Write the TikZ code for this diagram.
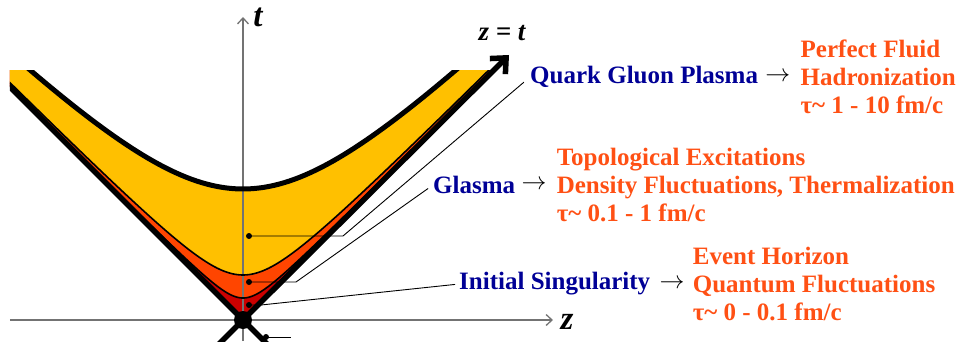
\documentclass[tikz,border=0pt]{standalone}
\usepackage{fontspec}
\setmainfont{Liberation Serif}
\usetikzlibrary{arrows.meta, positioning}
\definecolor{qgpyellow}{RGB}{255,192,0}
\definecolor{glasmaorange}{RGB}{255,69,0}
\definecolor{singred}{RGB}{204,0,0}
\definecolor{phaseblue}{RGB}{0,0,150}
\definecolor{noteorange}{RGB}{255,80,20}
\newcommand{\bigfont}{\fontsize{25}{28}\selectfont}

\begin{document}
\begin{tikzpicture}[
    x=1pt, y=1pt,
    phase/.style={font=\bigfont\bfseries, text=phaseblue, inner sep=0pt},
    note/.style={font=\bigfont\bfseries, text=noteorange, align=left, inner sep=0pt},
    goesto/.style={font=\bigfont, inner sep=0pt},
    axis/.style={line width=1.3pt, black!55, -{Straight Barb[length=6pt,width=11pt]}},
    axislabel/.style={font=\fontsize{33}{33}\selectfont\bfseries\itshape, inner sep=0pt},
    cone/.style={line width=5.5pt},
    shell/.style={line width=1.6pt},
    dot/.style={circle, fill, inner sep=0pt, minimum size=6pt},
    leader/.style={line width=0.9pt},
  ]
  \useasboundingbox (-243,-21) rectangle (724,320);
  \coordinate (O) at (0,0);

  \begin{scope}
    \clip (-233,-21) rectangle (724,320);
    % stages inside the forward light cone
    \begin{scope}
      \clip (0,0) -- (250,250) -- (-233,250) -- (-233,233) -- cycle;
      \fill[singred] (-240,-5) rectangle (260,260);
      \fill[glasmaorange] plot[domain=-3.4:3.4, samples=160] ({22*sinh(\x)}, {22*cosh(\x)}) -- cycle;
      \fill[qgpyellow] plot[domain=-2.6:2.6, samples=120] ({45*sinh(\x)}, {45*cosh(\x)}) -- cycle;
      \fill[white] plot[domain=-1.45:1.45, samples=80] ({131*sinh(\x)}, {131*cosh(\x)}) -- cycle;
    \end{scope}

    % axes
    \draw[axis] (-233,0) -- (310,0);
    \draw[axis] (0,-21) -- (0,303);

    % proper time hyperbolas
    \begin{scope}
      \clip (0,0) -- (250,250) -- (-233,250) -- (-233,233) -- cycle;
      \draw[shell] plot[domain=-3.4:3.4, samples=160] ({22*sinh(\x)}, {22*cosh(\x)});
      \draw[shell] plot[domain=-2.6:2.6, samples=120] ({45*sinh(\x)}, {45*cosh(\x)});
      \draw[line width=5pt] plot[domain=-1.45:1.45, samples=80] ({131*sinh(\x)}, {131*cosh(\x)});
    \end{scope}

    % light cone
    \draw[cone] (O) -- (-250,250);
    \draw[cone, -{Straight Barb[length=12pt,width=22pt]}] (O) -- (266,265);
    \draw[cone] (O) -- (-25,-25);
    \draw[cone] (O) -- (25,-25);
    \node[circle, fill, inner sep=0pt, minimum size=18pt] (event) at (O) {};

    \node[dot] (lowdot) at (23,-17) {};
    \coordinate (lowend) at (48,-17);
    \draw[leader] (lowdot.center) -- (lowend);
  \end{scope}

  \node[axislabel] (tlabel) at (15,303) {t};
  \node[axislabel] (zlabel) at (324,-2) {z};
  \node[axislabel, font=\fontsize{27}{27}\selectfont\bfseries\itshape] (conelabel) at (259,287) {z = t};

  % stages
  \node[phase, anchor=west] (qgp) at (287,243) {Quark Gluon Plasma};
  \node[goesto, right=7pt of qgp] (qgparrow) {$\rightarrow$};
  \node[note, right=10pt of qgparrow] (qgpnote) {Perfect Fluid\\Hadronization\\τ\textasciitilde{} 1 - 10 fm/c};

  \node[phase, anchor=west] (glasma) at (190,135) {Glasma};
  \node[goesto, right=6pt of glasma] (glasmaarrow) {$\rightarrow$};
  \node[note, right=10pt of glasmaarrow] (glasmanote) {Topological Excitations\\Density Fluctuations, Thermalization\\τ\textasciitilde{} 0.1 - 1 fm/c};

  \node[phase, anchor=west] (singularity) at (216,36) {Initial Singularity};
  \node[goesto, right=9pt of singularity] (singarrow) {$\rightarrow$};
  \node[note, right=8pt of singarrow] (singnote) {Event Horizon\\Quantum Fluctuations\\τ\textasciitilde{} 0 - 0.1 fm/c};

  % leaders from the stages
  \node[dot] (qgpdot) at (6,84) {};
  \node[dot] (glasmadot) at (6,38) {};
  \node[dot] (singdot) at (6,15) {};
  \draw[leader, shorten >=8pt] (qgpdot.center) -- (100,84) -- (qgp.west);
  \draw[leader, shorten >=6pt] (glasmadot.center) -- (53,38) -- (glasma.west);
  \draw[leader, shorten >=4pt] (singdot.center) -- (18,15) -- (singularity.west);
\end{tikzpicture}
\end{document}
